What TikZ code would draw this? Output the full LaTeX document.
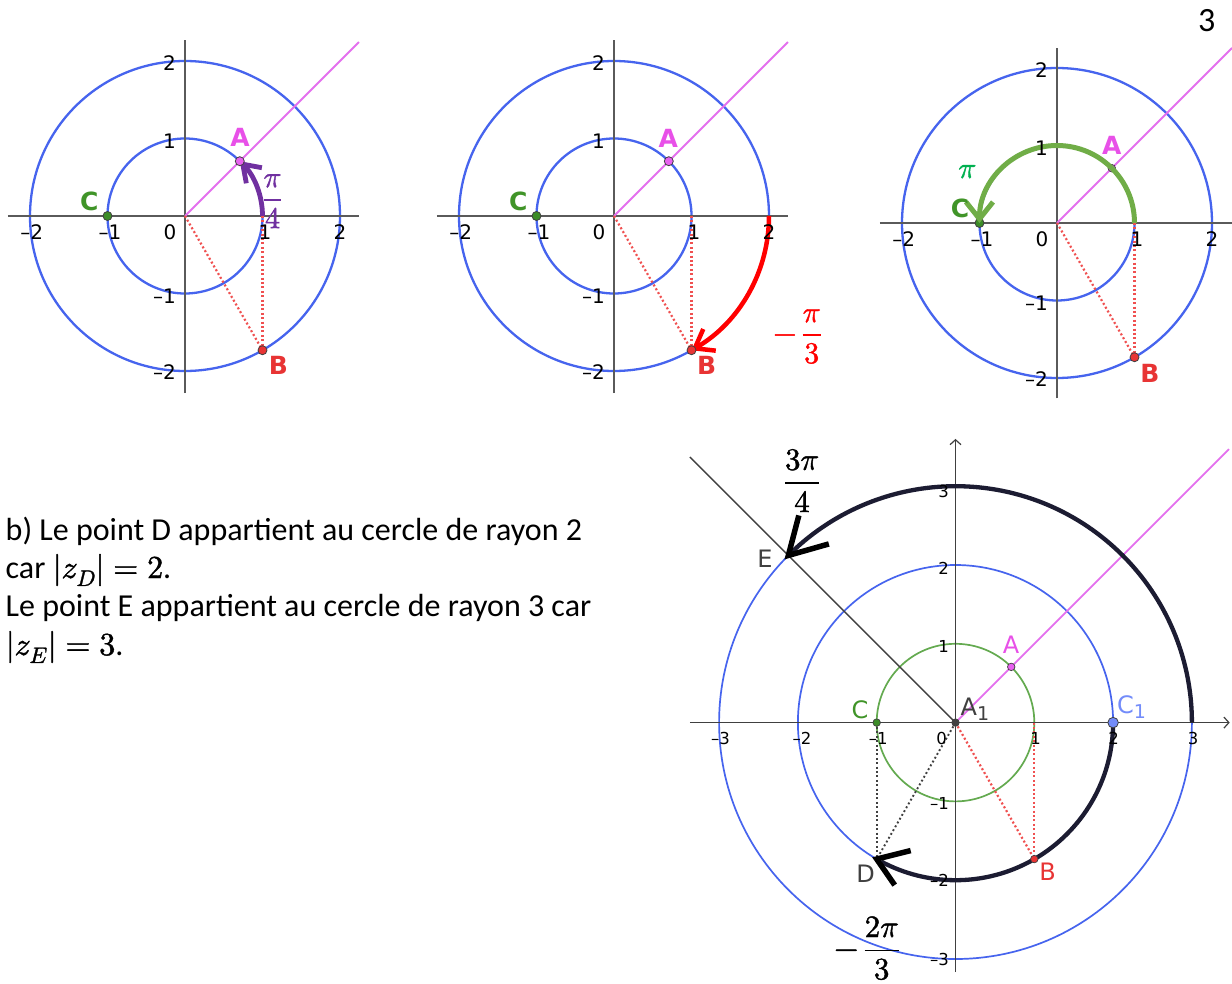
\documentclass[tikz,border=0pt]{standalone}
\usepackage{amsmath}
\usepackage{fontspec}
\usepackage{unicode-math}
\setmainfont{Carlito}
\setmathfont{Latin Modern Math}[FakeBold=1.4]
\newfontfamily\ggb{DejaVu Sans}
\usetikzlibrary{arrows.meta}
\definecolor{cblue}{RGB}{70,100,238}
\definecolor{cmag}{RGB}{228,112,238}
\definecolor{cmagpt}{RGB}{232,96,240}
\definecolor{cmaglab}{RGB}{232,80,232}
\definecolor{cgreen}{RGB}{60,140,40}
\definecolor{cgreenlab}{RGB}{64,148,40}
\definecolor{cred}{RGB}{232,52,52}
\definecolor{cdotred}{RGB}{240,80,80}
\definecolor{axgray}{RGB}{90,90,90}
\definecolor{cpurple}{RGB}{112,48,160}
\definecolor{carcgreen}{RGB}{112,173,71}
\definecolor{cpigreen}{RGB}{0,176,80}
\definecolor{cdark}{RGB}{28,28,50}
\definecolor{cgray}{RGB}{64,64,64}
\definecolor{clblue}{RGB}{115,140,250}
\definecolor{cgreencirc}{RGB}{100,170,80}
\tikzset{
 axis/.style={draw=axgray, line width=1.5pt},
 bigaxis/.style={draw=cgray, line width=1.2pt, -{Straight Barb[length=5pt,width=11pt]}},
 bcirc/.style={draw=cblue, line width=2.3pt},
 bcircthin/.style={draw=cblue, line width=1.7pt},
 gcirc/.style={draw=cgreencirc, line width=1.7pt},
 magline/.style={draw=cmag, line width=2pt},
 maglinethin/.style={draw=cmag, line width=1.7pt},
 grayline/.style={draw=cgray, line width=1.4pt},
 reddots/.style={draw=cdotred, line width=2.2pt, dash pattern=on 2pt off 2.4pt},
 graydots/.style={draw=cgray, line width=1.9pt, dash pattern=on 1.9pt off 2.5pt},
 gpt/.style={circle, draw=black!75, line width=0.8pt, inner sep=0pt, minimum size=9pt},
 gptsmall/.style={circle, draw=black!75, line width=0.7pt, inner sep=0pt, minimum size=7.5pt},
 tk/.style={font=\ggb\fontsize{20}{20}\selectfont, inner sep=0pt},
 tkb/.style={font=\ggb\fontsize{16.5}{16.5}\selectfont, inner sep=0pt},
 plab/.style={font=\ggb\fontsize{24}{24}\selectfont, inner sep=0pt},
 plabb/.style={font=\ggb\bfseries\fontsize{25}{25}\selectfont, inner sep=0pt},
 fr/.style={font=\fontsize{30}{30}\selectfont, inner sep=0pt, anchor=base},
 txt/.style={font=\fontsize{32}{38}\selectfont, inner sep=0pt, anchor=base west},
 bighead/.style={draw=black, line width=5.5pt, line join=miter, miter limit=10},
 purplearc/.style={draw=cpurple, line width=4.8pt, -{Straight Barb[length=16pt,width=22pt]}},
 redarc/.style={draw=red, line width=4.5pt, -{Straight Barb[length=17pt,width=25pt]}},
 greenarc/.style={draw=carcgreen, line width=5pt, -{Straight Barb[length=17pt,width=27pt]}},
}
\newcommand\topticks[3]{%
 \node[tk] (#3h1) at ({#1-153.3},{#2+16}) {–2};
 \node[tk] (#3h2) at ({#1-75},{#2+16}) {–1};
 \node[tk] (#3h3) at ({#1-15},{#2+16}) {0};
 \node[tk] (#3h4) at ({#1+80},{#2+16}) {1};
 \node[tk] (#3h5) at ({#1+155},{#2+16}) {2};
 \node[tk, anchor=east] (#3v1) at ({#1-9},{#2-153}) {2};
 \node[tk, anchor=east] (#3v2) at ({#1-9},{#2-75}) {1};
 \node[tk, anchor=east] (#3v3) at ({#1-9},{#2+80}) {–1};
 \node[tk, anchor=east] (#3v4) at ({#1-9},{#2+156}) {–2};
}
\begin{document}
\begin{tikzpicture}[x=1pt,y=-1pt]
\useasboundingbox (0,0) rectangle (1232,984);
\fill[white] (0,0) rectangle (1232,984);

% ---------- diagram 1 ----------
\begin{scope}[shift={(185,216)}, x=77.5pt, y=77.5pt]
 \draw[bcirc] (0,0) circle[radius=1];
 \draw[bcirc] (0,0) circle[radius=2];
 \draw[axis] (-2.284,0) -- (2.245,0);
 \draw[axis] (0,-2.284) -- (0,2.271);
 \coordinate (Oa) at (0,0);
 \coordinate (Ua) at (1,0);
 \coordinate (Ma) at (2.245,2.245);
 \coordinate (Bqa) at (-60:2);
 \draw[magline] (Oa) -- (Ma);
 \draw[reddots] (Oa) -- (Bqa);
 \draw[reddots] (Ua) -- (Bqa);
 \draw[purplearc] (Ua) arc[start angle=0,end angle=45,radius=1];
 \node[gpt, fill=cmagpt] (Aa) at (45:1) {};
 \node[gpt, fill=cred] (Ba) at (Bqa) {};
 \node[gpt, fill=cgreen] (Ca) at (-1,0) {};
\end{scope}
\topticks{185}{216}{ta}
\node[plabb, text=cmaglab] (LAa) at (240,137) {A};
\node[plabb, text=cgreenlab] (LCa) at (89.3,201.7) {C};
\node[plabb, text=cred] (LBa) at (278.3,365) {B};
\node[fr, text=cpurple] (FRa) at (272.5,207.5) {$\dfrac{\pi}{4}$};

% ---------- diagram 2 ----------
\begin{scope}[shift={(614,216)}, x=77.5pt, y=77.5pt]
 \draw[bcirc] (0,0) circle[radius=1];
 \draw[bcirc] (0,0) circle[radius=2];
 \draw[axis] (-2.284,0) -- (2.245,0);
 \draw[axis] (0,-2.284) -- (0,2.271);
 \coordinate (Ob) at (0,0);
 \coordinate (Ub) at (1,0);
 \coordinate (Wb) at (2,0);
 \coordinate (Mb) at (2.245,2.245);
 \coordinate (Bqb) at (-60:2);
 \draw[magline] (Ob) -- (Mb);
 \draw[reddots] (Ob) -- (Bqb);
 \draw[reddots] (Ub) -- (Bqb);
 \draw[redarc] (Wb) arc[start angle=0,end angle=-60,radius=2];
 \node[gpt, fill=cmagpt] (Ab) at (45:1) {};
 \node[gpt, fill=cred] (Bb) at (Bqb) {};
 \node[gpt, fill=cgreen] (Cb) at (-1,0) {};
\end{scope}
\topticks{614}{216}{tb}
\node[plabb, text=cmaglab] (LAb) at (668.3,138.3) {A};
\node[plabb, text=cgreenlab] (LCb) at (518.3,201.7) {C};
\node[plabb, text=cred] (LBb) at (706.7,365) {B};
\node[fr, text=red, anchor=base west] (FRb) at (773,342.5) {$-\,\dfrac{\pi}{3}$};

% ---------- diagram 3 ----------
\begin{scope}[shift={(1057,223)}, x=77.5pt, y=77.5pt]
 \draw[bcirc] (0,0) circle[radius=1];
 \draw[bcirc] (0,0) circle[radius=2];
 \draw[axis] (-2.284,0) -- (2.258,0);
 \draw[axis] (0,-2.264) -- (0,2.264);
 \coordinate (Oc) at (0,0);
 \coordinate (Uc) at (1,0);
 \coordinate (Mc) at (2.258,2.258);
 \coordinate (Bqc) at (-60:2);
 \draw[magline] (Oc) -- (Mc);
 \draw[reddots] (Oc) -- (Bqc);
 \draw[reddots] (Uc) -- (Bqc);
 \node[gptsmall, fill=cmagpt!60!gray] (Ac) at (45:1) {};
 \node[gpt, fill=cred] (Bc) at (Bqc) {};
 \node[gpt, fill=cgreen] (Cc) at (-1,0) {};
 \draw[greenarc] (Uc) arc[start angle=0,end angle=180,radius=1];
\end{scope}
\topticks{1057}{223}{tc}
\node[plabb, text=cmaglab] (LAc) at (1111.7,145) {A};
\node[plabb, text=cgreenlab] (LCc) at (960,208.3) {C};
\node[plabb, text=cred] (LBc) at (1150,373.3) {B};
\node[fr, text=cpigreen, anchor=center] (FRc) at (967.3,171.7) {$\pi$};

% ---------- page number ----------
\node[font=\fontsize{34}{34}\selectfont, inner sep=0pt] (pg) at (1206.7,20.7) {3};

% ---------- text ----------
\node[txt] (l1) at (5.5,540) {b) Le point D appartient au cercle de rayon 2};
\node[txt] (l2) at (5.5,578) {car $|z_D| = 2$.};
\node[txt] (l3) at (5.5,616.5) {Le point E appartient au cercle de rayon 3 car};
\node[txt] (l4) at (5.5,655) {$|z_E| = 3$.};

% ---------- big diagram ----------
\begin{scope}[shift={(955.5,722.6)}, x=78.8pt, y=78.8pt]
 \draw[gcirc] (0,0) circle[radius=1];
 \draw[bcircthin] (0,0) circle[radius=2];
 \draw[bcircthin] (0,0) circle[radius=3];
 \draw[bigaxis] (-3.37,0) -- (3.48,0);
 \draw[bigaxis] (0,-3.165) -- (0,3.6);
 \coordinate (Od) at (0,0);
 \coordinate (Ud) at (1,0);
 \coordinate (Wd) at (2,0);
 \coordinate (Td) at (3,0);
 \coordinate (Md) at (3.47,3.47);
 \coordinate (Nd) at (-3.37,3.37);
 \coordinate (Bqd) at (-60:2);
 \coordinate (Dqd) at (-120:2);
 \coordinate (Eqd) at (135:3);
 \coordinate (Cqd) at (-1,0);
 \draw[maglinethin] (Od) -- (Md);
 \draw[grayline] (Od) -- (Nd);
 \draw[reddots] (Od) -- (Bqd);
 \draw[reddots] (Ud) -- (Bqd);
 \draw[graydots] (Od) -- (Dqd);
 \draw[graydots] (Cqd) -- (Dqd);
 \draw[draw=cdark, line width=4.3pt] (Td) arc[start angle=0,end angle=134,radius=3];
 \draw[draw=cdark, line width=4.3pt] (Wd) arc[start angle=0,end angle=-118,radius=2];
 \node[gptsmall, fill=cmagpt] (Ad) at (45:1) {};
 \node[gptsmall, fill=cred] (Bd) at (Bqd) {};
 \node[gptsmall, fill=cgreen] (Cd) at (Cqd) {};
 \node[gptsmall, fill=cgray] (A1d) at (Od) {};
 \node[circle, draw=black!75, line width=0.8pt, inner sep=0pt, minimum size=10.5pt, fill=clblue] (C1d) at (Wd) {};
\end{scope}
% arrow heads of the two thick arcs
\draw[bighead] ([shift={(10.5,-40)}]Eqd) -- (Eqd) -- ([shift={(40.5,-11.5)}]Eqd);
\draw[bighead] ([shift={(34,-8.5)}]Dqd) -- (Dqd) -- ([shift={(18,26)}]Dqd);
% big ticks
\node[tkb] (bh1) at (720.6,738) {–3};
\node[tkb] (bh2) at (802,738) {–2};
\node[tkb] (bh3) at (878.3,738) {–1};
\node[tkb] (bh4) at (941.7,738) {0};
\node[tkb] (bh5) at (1035.5,738) {1};
\node[tkb] (bh6) at (1113.5,738) {2};
\node[tkb] (bh7) at (1193,738) {3};
\node[tkb, anchor=east] (bv1) at (949,491) {3};
\node[tkb, anchor=east] (bv2) at (949,568.5) {2};
\node[tkb, anchor=east] (bv3) at (949,646) {1};
\node[tkb, anchor=east] (bv4) at (949,803) {–1};
\node[tkb, anchor=east] (bv5) at (949,880.5) {–2};
\node[tkb, anchor=east] (bv6) at (949,959) {–3};
% big labels
\node[plab, text=cgray] (LEd) at (765,559) {E};
\node[plab, text=cmaglab] (LAd) at (1011,645) {A};
\node[plab, text=cgreenlab] (LCd) at (860,710) {C};
\node[plab, text=cgray, anchor=base west] (LA1d) at (960.5,715) {A\raisebox{-5pt}{\fontsize{19}{19}\selectfont 1}};
\node[plab, text=clblue, anchor=base west] (LC1d) at (1117,713.3) {C\raisebox{-5pt}{\fontsize{19}{19}\selectfont 1}};
\node[plab, text=cgray] (LDd) at (865.5,873.5) {D};
\node[plab, text=cred] (LBd) at (1047.5,872) {B};
\node[fr, font=\fontsize{31}{31}\selectfont] (FRd) at (802,490.75) {$\dfrac{3\pi}{4}$};
\node[fr, font=\fontsize{31}{31}\selectfont, anchor=base west] (FRe) at (834,958) {$-\,\dfrac{2\pi}{3}$};
\end{tikzpicture}
\end{document}
